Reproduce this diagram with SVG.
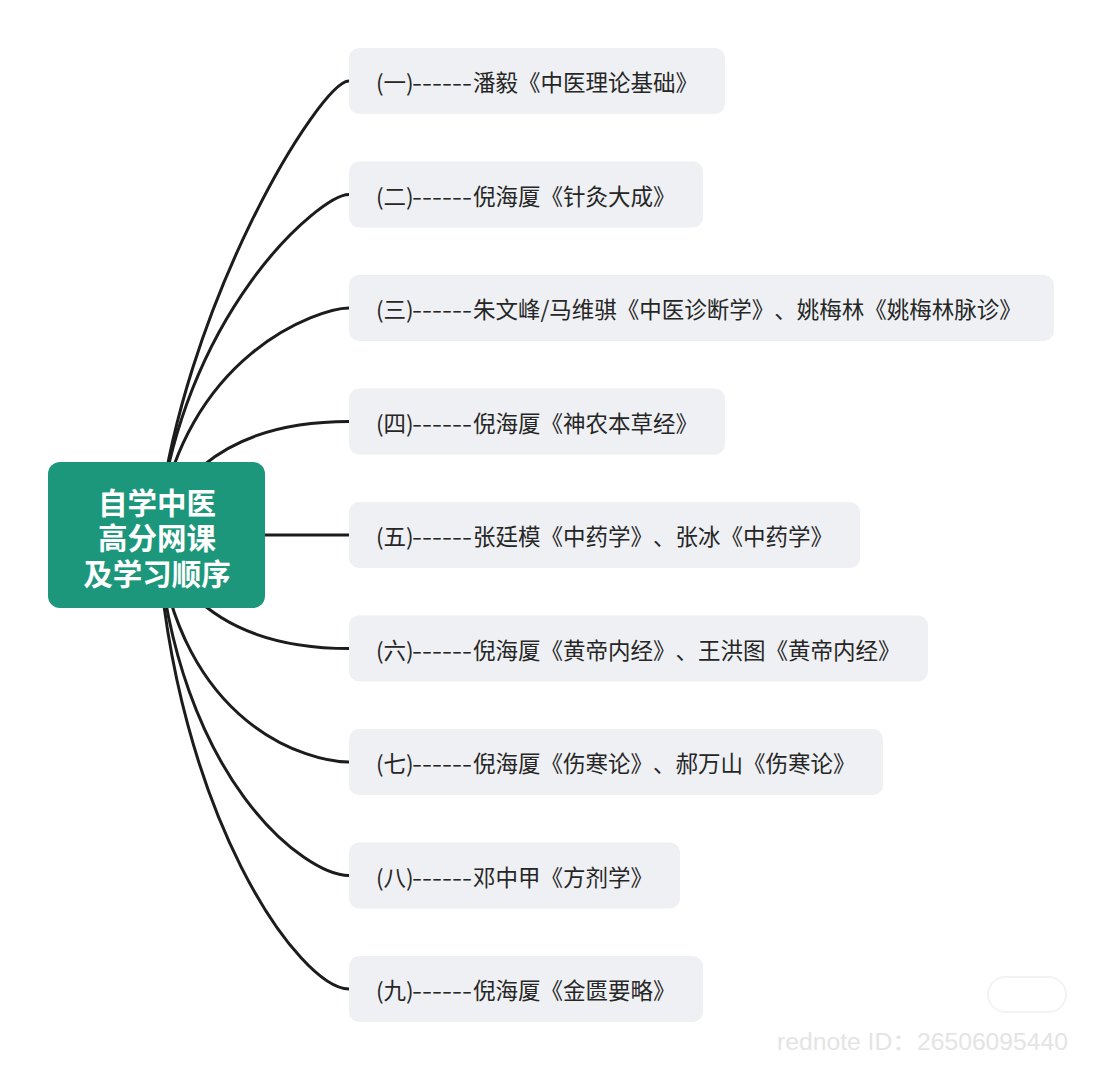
<svg xmlns="http://www.w3.org/2000/svg" width="1102" height="1080" viewBox="0 0 1102 1080">
<style>
.bg{fill:#ffffff}
.link{fill:none;stroke:#1c1c1c;stroke-width:3;stroke-linecap:round}
.box{fill:#eef0f3}
.lbl{font-family:"Noto Sans CJK SC","Noto Sans",sans-serif;font-size:22.5px;fill:#262626;dominant-baseline:central;text-spacing-trim:space-all}
.root{fill:#1d977c}
.rootTxt{font-family:"Noto Sans CJK SC","Noto Sans",sans-serif;font-size:29.5px;font-weight:bold;fill:#ffffff;text-anchor:middle;dominant-baseline:central}
.wm{font-family:"Liberation Sans","Noto Sans CJK SC",sans-serif;font-size:23px;fill:#e4e4e4}
</style>
<rect class="bg" x="0" y="0" width="1102" height="1080"/>
<g id="connectors">
<path class="link" d="M157,535 C180,308 320,81 349,81"/>
<path class="link" d="M157,535 C180,313.7 320,194.5 349,194.5"/>
<path class="link" d="M157,535 C182,353.4 320,308 349,308"/>
<path class="link" d="M157,535 C195,421.5 320,421.5 349,421.5"/>
<path class="link" d="M240,535 L349,535"/>
<path class="link" d="M157,535 C195,648.5 320,648.5 349,648.5"/>
<path class="link" d="M157,535 C180,728 310,762 349,762"/>
<path class="link" d="M157,535 C177,780 305,875.5 349,875.5"/>
<path class="link" d="M157,535 C175,816 300,989 349,989"/>
</g>
<g id="root">
<rect class="root" x="48" y="462" width="217" height="146" rx="12"/>
<text class="rootTxt"><tspan x="157" y="501">自学中医</tspan><tspan x="157" y="536">高分网课</tspan><tspan x="157" y="572">及学习顺序</tspan></text>
</g>
<g id="n1">
<rect class="box" x="349" y="48" width="376" height="66" rx="10"/>
<text class="lbl" y="81"><tspan x="376">(一)</tspan><tspan x="412" textLength="60" lengthAdjust="spacingAndGlyphs">------</tspan><tspan x="473">潘毅《中医理论基础》</tspan></text>
</g>
<g id="n2">
<rect class="box" x="349" y="161.5" width="354" height="66" rx="10"/>
<text class="lbl" y="194.5"><tspan x="376">(二)</tspan><tspan x="412" textLength="60" lengthAdjust="spacingAndGlyphs">------</tspan><tspan x="473">倪海厦《针灸大成》</tspan></text>
</g>
<g id="n3">
<rect class="box" x="349" y="275" width="705" height="66" rx="10"/>
<text class="lbl" y="308"><tspan x="376">(三)</tspan><tspan x="412" textLength="60" lengthAdjust="spacingAndGlyphs">------</tspan><tspan x="473">朱文峰/马维骐《中医诊断学》、姚梅林《姚梅林脉诊》</tspan></text>
</g>
<g id="n4">
<rect class="box" x="349" y="388.5" width="376" height="66" rx="10"/>
<text class="lbl" y="421.5"><tspan x="376">(四)</tspan><tspan x="412" textLength="60" lengthAdjust="spacingAndGlyphs">------</tspan><tspan x="473">倪海厦《神农本草经》</tspan></text>
</g>
<g id="n5">
<rect class="box" x="349" y="502" width="511" height="66" rx="10"/>
<text class="lbl" y="535"><tspan x="376">(五)</tspan><tspan x="412" textLength="60" lengthAdjust="spacingAndGlyphs">------</tspan><tspan x="473">张廷模《中药学》、张冰《中药学》</tspan></text>
</g>
<g id="n6">
<rect class="box" x="349" y="615.5" width="579" height="66" rx="10"/>
<text class="lbl" y="648.5"><tspan x="376">(六)</tspan><tspan x="412" textLength="60" lengthAdjust="spacingAndGlyphs">------</tspan><tspan x="473">倪海厦《黄帝内经》、王洪图《黄帝内经》</tspan></text>
</g>
<g id="n7">
<rect class="box" x="349" y="729" width="534" height="66" rx="10"/>
<text class="lbl" y="762"><tspan x="376">(七)</tspan><tspan x="412" textLength="60" lengthAdjust="spacingAndGlyphs">------</tspan><tspan x="473">倪海厦《伤寒论》、郝万山《伤寒论》</tspan></text>
</g>
<g id="n8">
<rect class="box" x="349" y="842.5" width="331" height="66" rx="10"/>
<text class="lbl" y="875.5"><tspan x="376">(八)</tspan><tspan x="412" textLength="60" lengthAdjust="spacingAndGlyphs">------</tspan><tspan x="473">邓中甲《方剂学》</tspan></text>
</g>
<g id="n9">
<rect class="box" x="349" y="956" width="354" height="66" rx="10"/>
<text class="lbl" y="989"><tspan x="376">(九)</tspan><tspan x="412" textLength="60" lengthAdjust="spacingAndGlyphs">------</tspan><tspan x="473">倪海厦《金匮要略》</tspan></text>
</g>
<g id="watermark">
<rect x="988" y="977" width="78" height="35" rx="17.5" fill="none" stroke="#f3f3f3" stroke-width="2"/>
<text class="wm" x="777" y="1050" textLength="291" lengthAdjust="spacingAndGlyphs">rednote ID：26506095440</text>
</g>
</svg>
